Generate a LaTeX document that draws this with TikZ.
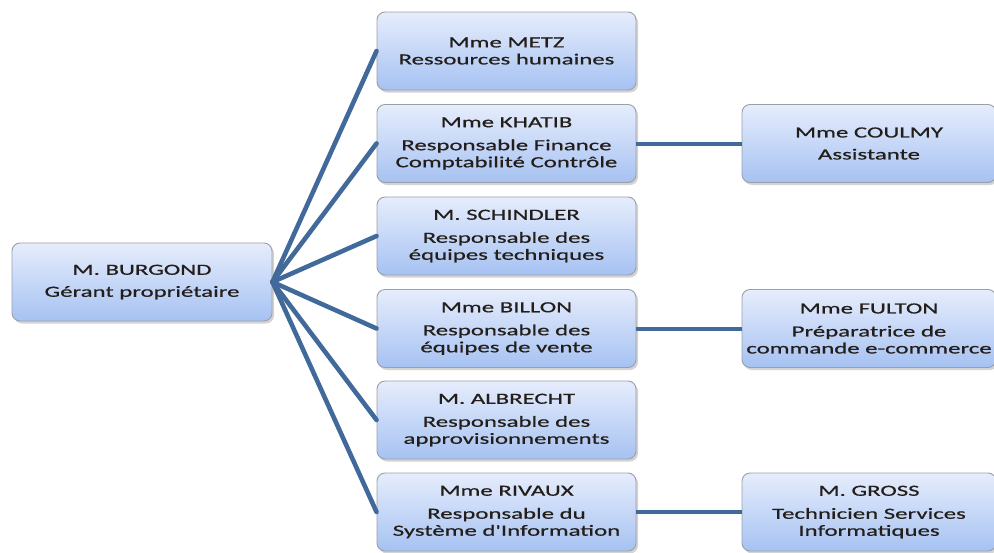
\documentclass[tikz,border=0pt]{standalone}
\usepackage{fontspec}
\setmainfont{Carlito}
\newfontfamily\boxfont[FakeStretch=1.6,FakeBold=0.6]{Carlito}
\usetikzlibrary{shadows}
\definecolor{linkblue}{HTML}{41699A}
\definecolor{boxtop}{HTML}{E6EDFC}
\definecolor{boxbot}{HTML}{A6C2F2}
\definecolor{boxline}{HTML}{9AA0AA}
\definecolor{txt}{HTML}{231E1A}
\tikzset{
  card/.style={draw=boxline, line width=0.9pt, rounded corners=8pt,
    top color=boxtop, bottom color=boxbot, minimum width=259pt, minimum height=78pt,
    align=center, text=txt, inner sep=0pt,
    font=\boxfont\fontsize{15.5}{17}\selectfont,
    drop shadow={shadow xshift=2pt, shadow yshift=-2.5pt, opacity=0.35}},
  rcard/.style={card, minimum width=254pt},
  link/.style={draw=linkblue, line width=4.6pt},
  hlink/.style={draw=linkblue, line width=4pt}
}
\begin{document}
\begin{tikzpicture}[x=1pt,y=-1pt]
\useasboundingbox (0,0) rectangle (994,552);
\node[card, minimum width=260pt] (root) at (142,282) {M. BURGOND\\[5pt]Gérant propriétaire};
\node[card] (metz) at (506.5,51) {Mme METZ\\Ressources humaines};
\node[card] (khatib) at (506.5,143.5) {Mme KHATIB\\[6pt]Responsable Finance\\Comptabilité Contrôle};
\node[card] (schindler) at (506.5,236) {M. SCHINDLER\\[6pt]Responsable des\\équipes techniques};
\node[card] (billon) at (506.5,328.5) {Mme BILLON\\[6pt]Responsable des\\équipes de vente};
\node[card] (albrecht) at (506.5,420) {M. ALBRECHT\\[6pt]Responsable des\\approvisionnements};
\node[card] (rivaux) at (506.5,512) {Mme RIVAUX\\[6pt]Responsable du\\Système d'Information};
\node[rcard] (coulmy) at (869,143.5) {Mme COULMY\\[5pt]Assistante};
\node[rcard] (fulton) at (869,328.5) {Mme FULTON\\[6pt]Préparatrice de\\commande e-commerce};
\node[rcard] (gross) at (869,512) {M. GROSS\\[6pt]Technicien Services\\Informatiques};
\begin{scope}[on background layer/.try]
\foreach \t in {metz,khatib,schindler,billon,albrecht,rivaux}
  \draw[link, line cap=round] (root.east) -- (\t.west);
\draw[hlink] (khatib.east) -- (coulmy.west);
\draw[hlink] (billon.east) -- (fulton.west);
\draw[hlink] (rivaux.east) -- (gross.west);
\end{scope}
\end{tikzpicture}
\end{document}
